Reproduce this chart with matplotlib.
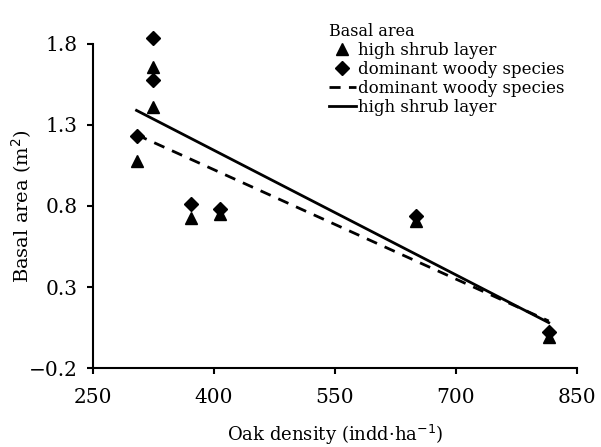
import numpy as np
import matplotlib.pyplot as plt

plt.rcParams['font.family'] = ['DejaVu Serif']

# oak density (indd/ha) of the sampled plots
oak_density = [304, 324, 324, 371, 407, 650, 815]

# basal area (m2)
shrub_basal = [1.08, 1.41, 1.66, 0.725, 0.75, 0.71, -0.01]
woody_basal = [1.23, 1.84, 1.58, 0.81, 0.78, 0.74, 0.02]

# trend line end points
trend_x = [304, 815]
shrub_trend = [1.39, 0.08]
woody_trend = [1.24, 0.09]

fig = plt.figure(figsize=(6.01, 4.47), dpi=100)
ax = fig.add_axes([0.1547, 0.1767, 0.8053, 0.7249])

ax.plot(oak_density, shrub_basal, '^', color='black', ms=9, clip_on=False,
        label='high shrub layer')
ax.plot(oak_density, woody_basal, 'D', color='black', ms=7.5, clip_on=False,
        label='dominant woody species')
ax.plot(trend_x, woody_trend, '--', color='black', lw=2, dashes=(4, 3),
        label='dominant woody species')
ax.plot(trend_x, shrub_trend, '-', color='black', lw=2,
        label='high shrub layer')

ax.set_xlim(250, 850)
ax.set_ylim(-0.2, 1.8)
ax.set_xticks([250, 400, 550, 700, 850])
ax.set_yticks([1.8, 1.3, 0.8, 0.3, -0.2])
ax.set_yticklabels(['1.8', '1.3', '0.8', '0.3', '\u22120.2'])
ax.tick_params(direction='out', length=4.5, width=1.5, labelsize=14.5)
ax.tick_params(axis='x', pad=10)
ax.tick_params(axis='y', pad=6.5)
for s in ['top', 'right']:
    ax.spines[s].set_visible(False)
for s in ['left', 'bottom']:
    ax.spines[s].set_linewidth(1.5)

ax.set_xlabel('Oak density (indd\u00b7ha$^{-1}$)', fontsize=13, va='center')
ax.xaxis.set_label_coords(0.5, -0.207)
ax.set_ylabel('Basal area (m$^2$)', fontsize=14, va='center')
ax.yaxis.set_label_coords(-0.147, 0.5)

leg = fig.legend(title='Basal area', loc='upper left',
                 bbox_to_anchor=(314 / 601, 1 - 8 / 447),
                 frameon=False, fontsize=12, title_fontsize=11.5, numpoints=1,
                 handlelength=1.6, handletextpad=0.15, labelspacing=0.12,
                 alignment='left')

plt.savefig('out.png')
